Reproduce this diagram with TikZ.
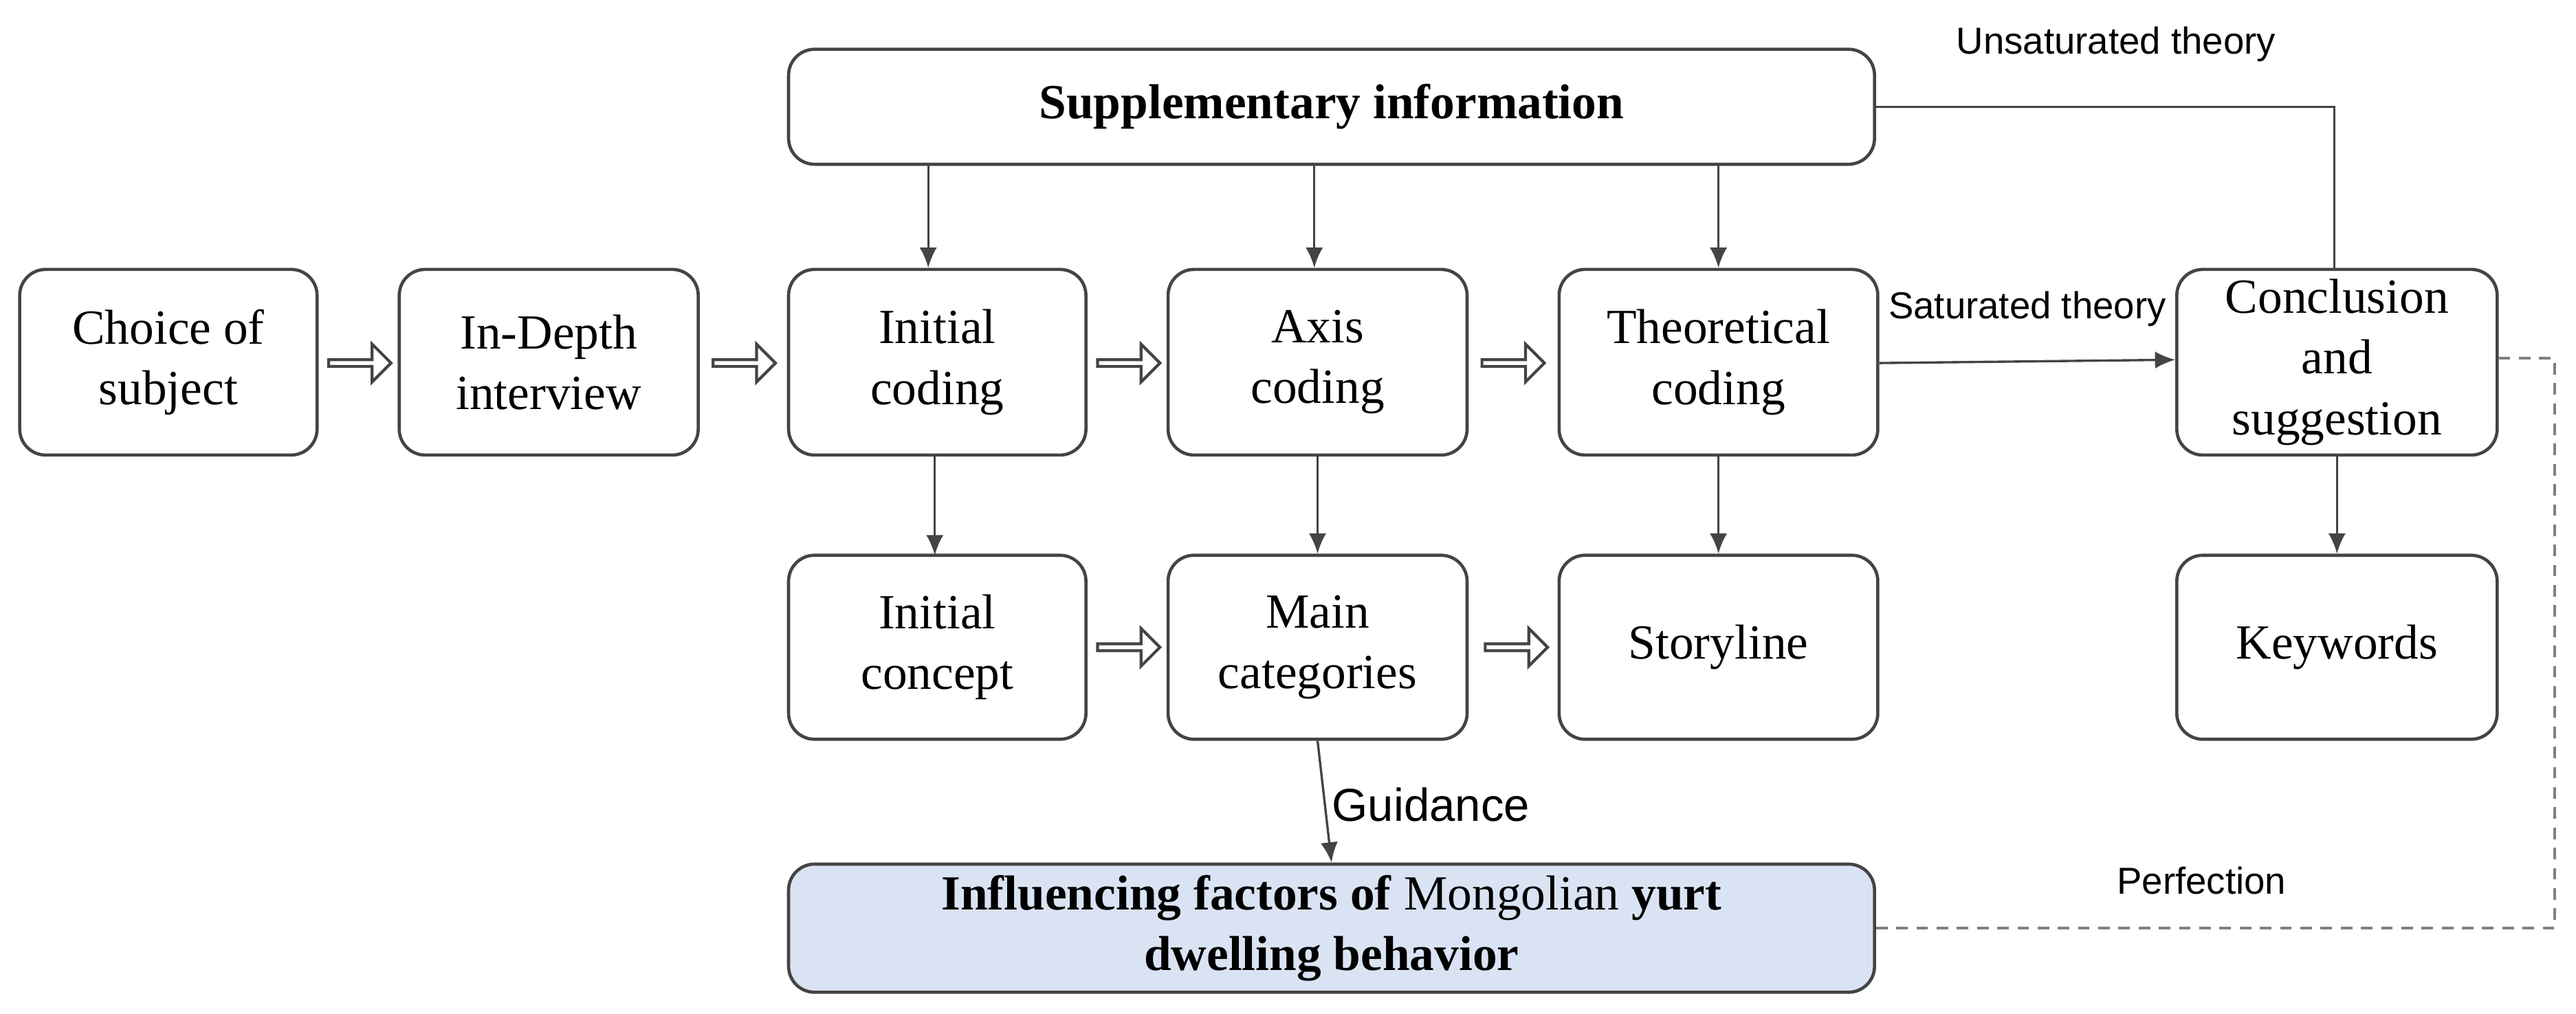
\documentclass[tikz,border=0pt]{standalone}
\usepackage{fontspec}
\setmainfont{Liberation Serif}
\newfontfamily\lsans{Liberation Sans}
\usetikzlibrary{shapes.arrows,arrows.meta}
\definecolor{lineg}{HTML}{444444}
\definecolor{fillb}{HTML}{DAE3F3}
\begin{document}
\begin{tikzpicture}[x=0.02cm,y=-0.02cm,
 box/.style={draw=lineg,line width=1.1pt,rounded corners=9pt,align=center,font=\fontsize{17}{21}\selectfont,inner sep=0pt},
 con/.style={draw=lineg,line width=0.8pt,-{Latex[length=7pt,width=6pt]}},
 plain/.style={draw=lineg,line width=0.8pt},
 harrow/.style={single arrow,draw=lineg,line width=1pt,minimum height=38\pgflinewidth,single arrow head extend=4pt,inner sep=0pt,minimum width=22pt,text width=0pt},
 lab/.style={font=\lsans\fontsize{13}{15}\selectfont}]
\useasboundingbox (0,0) rectangle (1568,617);
\def\bx#1#2#3#4#5#6{\node[box,minimum width={(#4-#2)*0.02cm},minimum height={(#5-#3)*0.02cm}] (#1) at ({(#2+#4)/2},{(#3+#5)/2}) {#6};}
\bx{sup}{480}{30}{1141}{100}{\textbf{Supplementary information}}
\bx{choice}{12}{164}{193}{277}{Choice of\\subject}
\bx{depth}{243}{164}{425}{277}{In-Depth\\interview}
\bx{ic}{480}{164}{661}{277}{Initial\\coding}
\bx{ax}{711}{164}{893}{277}{Axis\\coding}
\bx{th}{949}{164}{1143}{277}{Theoretical\\coding}
\bx{co}{1325}{164}{1520}{277}{Conclusion\\and\\suggestion}
\bx{icn}{480}{338}{661}{450}{Initial\\concept}
\bx{mc}{711}{338}{893}{450}{Main\\categories}
\bx{st}{949}{338}{1143}{450}{Storyline}
\bx{kw}{1325}{338}{1520}{450}{Keywords}
\node[box,fill=fillb,minimum width={661*0.02cm},minimum height={78*0.02cm}] (inf) at (810.5,565) {\textbf{Influencing factors of} Mongolian \textbf{yurt}\\\textbf{dwelling behavior}};
% hollow arrows
\foreach \n/\x/\y in {h1/218/221,h2/452/221,h3/686/221,h4/920/221,h5/686/394,h6/922/394}
  \node[single arrow,draw=lineg,line width=1pt,minimum height=0.76cm,minimum width=0.46cm,single arrow head extend=0.08cm,inner sep=0pt,shape border rotate=0] (\n) at (\x,\y) {};
% connectors
\coordinate (s1) at (565,100); \coordinate (s2) at (800,100); \coordinate (s3) at (1046,100);
\draw[con] (s1) -- (ic.north -| s1);
\draw[con] (s2) -- (ax.north -| s2);
\draw[con] (s3) -- (th.north -| s3);
\draw[con] (569,277) -- (569,338);
\draw[con] (ax.south) -- (mc.north);
\draw[con] (th.south) -- (st.north);
\draw[con] (co.south) -- (kw.north);
\draw[con] (th.east |- 0,221) -- (co.west |- 0,219);
\node[lab,anchor=south] at (1234,205) {Saturated theory};
\coordinate (u1) at (1421,65);
\draw[plain] (sup.east |- u1) -- (u1) -- (co.north -| u1);
\node[lab] at (1288,27) {Unsaturated theory};
\draw[con] (mc.south) -- (inf.north);
\node[font=\lsans\fontsize{16}{18}\selectfont] at (871,490) {Guidance};
\coordinate (d1) at (1555,218); \coordinate (d2) at (1555,565);
\draw[plain,dashed,dash pattern=on 4pt off 3pt,draw=gray] (co.east |- d1) -- (d1) -- (d2) -- (inf.east |- d2);
\node[lab] at (1340,536) {Perfection};
\end{tikzpicture}
\end{document}
